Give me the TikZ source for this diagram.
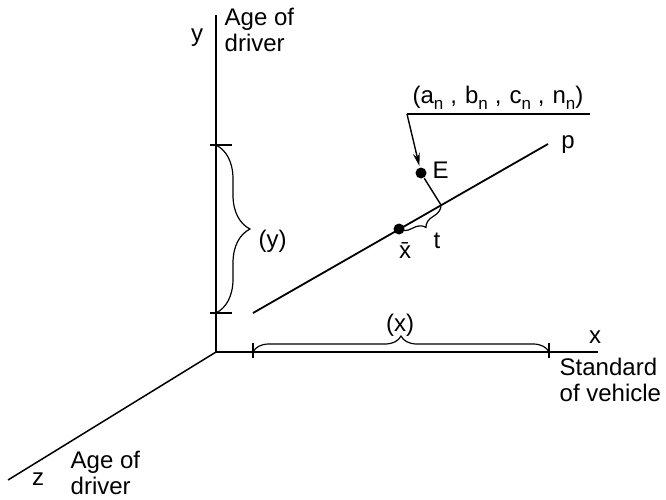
\documentclass[tikz,border=0pt]{standalone}
\usepackage{fontspec}
\setmainfont{Liberation Sans}
\usetikzlibrary{arrows.meta,decorations.pathreplacing}
\newcommand{\lowsub}[1]{\raisebox{-0.45ex}{\fontsize{17}{17}\selectfont #1}}
\newcommand{\gapcomma}{\hspace*{7pt},\hspace*{8pt}}

\begin{document}
\begin{tikzpicture}[x=1pt, y=-1pt,
    line width=1.4pt, >={Stealth[length=13pt,width=7pt]},
    axis/.style={line width=1.5pt},
    tick/.style={line width=1.1pt},
    curly/.style={decorate, decoration={brace, amplitude=#1}, line width=1.2pt},
    lab/.style={font=\fontsize{24}{26}\selectfont, inner sep=0pt},
    dot/.style={circle, fill, inner sep=0pt, minimum size=11pt}]
  % fixed 666 x 500 canvas
  \path[use as bounding box] (0,0) rectangle (666,500);

  % ================= axes =================
  \coordinate (O) at (216,352);
  \coordinate (ytop) at (216,15);
  \coordinate (xend) at (598,352);
  \coordinate (zend) at (8,480);
  \draw[axis] (ytop) -- (O) -- (xend);
  \draw[axis] (O) -- (zend);
  \node[lab, anchor=base] (ylab) at (197,42) {y};
  \node[lab, anchor=north west, align=left] (yname) at (224,7) {Age of\\driver};
  \node[lab, anchor=base] (xlab) at (595,343) {x};
  \node[lab, anchor=north west, align=left] (xname) at (559,357) {Standard\\of vehicle};
  \node[lab, anchor=base] (zlab) at (38,485) {z};
  \node[lab, anchor=north west, align=left] (zname) at (70,450) {Age of\\driver};

  % ================= ranges on the axes =================
  \draw[tick] (210,145) -- (232,145);
  \draw[tick] (210,313) -- (232,313);
  \draw[curly=34] (216,145) -- (216,313);
  \node[lab, anchor=west] (yrange) at (258,241) {(y)};
  \draw[tick] (253,343) -- (253,358);
  \draw[tick] (549,343) -- (549,358);
  \draw[curly=16] (253,352) -- (549,352);
  \node[lab, anchor=base] (xrange) at (400,331) {(x)};

  % ================= line p, mean point and E =================
  \coordinate (pstart) at (253,313);
  \coordinate (pend) at (548,144);
  \draw[line width=1.8pt] (pstart) -- (pend);
  \node[lab, anchor=base] (plab) at (568,148) {p};
  \node[dot] (xbar) at (399,229) {};
  \coordinate (foot) at (441,205);
  \node[dot] (E) at (421,173) {};
  \draw (E) -- (foot);
  \node[lab, anchor=west] (Elab) at (432,170) {E};
  \draw[curly=12] (foot) -- (xbar.center);
  \node[lab, anchor=base] (tlab) at (437,248) {t};
  \node[lab, anchor=base] (xbarlab) at (405,258) {\={x}};

  % ================= coefficients of E =================
  \node[lab, anchor=base] (coef) at (498,104)
    {(a\lowsub{n}\gapcomma b\lowsub{n}\gapcomma c\lowsub{n}\gapcomma n\lowsub{n})};
  \coordinate (ul) at (407,114);
  \draw (ul) -- (590,114);
  \draw[->, shorten >=1pt] (ul) -- (E);
\end{tikzpicture}
\end{document}
